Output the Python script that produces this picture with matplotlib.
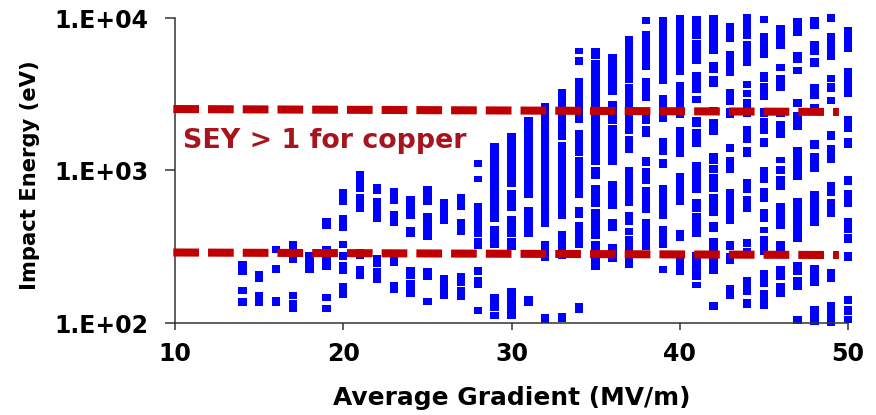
import matplotlib
matplotlib.use("Agg")
import matplotlib.pyplot as plt
from matplotlib.ticker import FixedLocator, FixedFormatter, NullLocator

plt.rcParams['font.family'] = ['DejaVu Sans']
plt.rcParams['lines.scale_dashes'] = False

# ---- data -------------------------------------------------------------
gradients = list(range(14, 51))  # Average gradient (MV/m)

# impact-energy bands (eV) per gradient: low / high edges of each band
energy_low = [
    [206, 155, 129],
    [186, 129],
    [288, 213, 129],
    [247, 144, 118],
    [213],
    [413, 223, 139, 118],
    [594, 401, 310, 259, 210, 146],
    [723, 534, 263, 194],
    [701, 460, 233, 183],
    [603, 433, 236, 157],
    [481, 366, 194, 148],
    [594, 350, 191, 131],
    [446, 144],
    [551, 378, 175, 141.5],
    [1054, 841, 366, 306, 206, 170, 114.5],
    [460, 310, 120, 106],
    [779, 543, 366, 301, 106],
    [660, 366, 129],
    [426, 255, 100],
    [1585, 481, 263, 101.5],
    [5806, 4919, 2048, 1245, 660, 488, 310, 116],
    [5385, 1087, 880, 576, 355, 223],
    [3126, 2018, 1087, 559, 401, 251],
    [3748, 1735, 1302, 585, 439, 378, 229],
    [9134, 4561, 2857, 2018, 1659, 1070, 816, 526, 301],
    [3692, 2080, 1264, 1038.5, 481, 310, 213],
    [4229, 2209, 1226, 594, 345, 206],
    [7282, 4993, 3222, 2772, 1928, 1426, 712, 534, 366, 191, 170],
    [5806, 4359, 3528, 2382, 1709, 1103, 963, 723, 503, 395, 210, 122],
    [6960, 4166, 2689, 2209, 1322, 963, 446, 301, 244, 144],
    [7282, 4845, 3475, 3033, 2243, 1515, 1226, 712, 534, 315, 279, 153, 125],
    [9273, 5467, 3805, 2900, 2243, 1735, 1426, 828, 622, 460, 389, 279, 172, 123.5],
    [6262, 4493, 3321, 2243, 1634, 1120, 949, 745, 413, 292, 191, 148],
    [7620, 5069, 4294, 2609, 1844, 866, 340, 206, 165, 98.5],
    [8469, 5719, 4772, 2944, 2493, 1384, 978, 433, 175, 97],
    [9414, 5304, 3805, 3271, 2730, 1585, 1120, 680, 496, 186, 95.5],
    [5984, 3033, 1789, 1405, 803, 576, 389, 335, 255, 133, 113, 100],
]
energy_high = [
    [255, 172, 146],
    [219, 160],
    [320, 240, 148],
    [345, 160, 141.5],
    [292],
    [488, 320, 155, 131],
    [756, 511, 345, 292, 251, 183],
    [993, 701, 306, 236],
    [816, 660, 279, 229],
    [768, 543, 271, 186],
    [680, 426, 233, 191],
    [791, 526, 229, 146],
    [650, 206],
    [701, 481, 213, 172],
    [1172, 920, 612, 361, 233, 200, 127],
    [1515, 433, 155, 118],
    [1762, 745, 503, 361, 170],
    [2243, 576, 150],
    [2772, 345, 114.5],
    [3423, 1538, 401, 116],
    [6357, 5549, 4042, 1844, 1226, 576, 460, 135],
    [6357, 5304, 1054, 803, 559, 345],
    [5806, 2857, 1987, 853, 481, 330],
    [7620, 3692, 1684, 1054, 534, 420, 372],
    [10152, 8217, 4042, 2531, 1958, 1226, 1038.5, 779, 481],
    [10152, 3126, 1634, 1190, 803, 433, 236],
    [10463, 3805, 1928, 963, 407, 267],
    [10307, 7173, 4425, 3080, 2243, 1872, 1137, 650, 526, 292, 186],
    [10463, 5147, 4166, 2609, 2176, 1302, 1087, 949, 701, 460, 361, 137],
    [9273, 6075, 3423, 2569, 1492, 1226, 756, 345, 288, 177.5],
    [10623, 7066, 3863, 3372, 2944, 1958, 1426, 880, 680, 355, 310, 200, 144],
    [10307, 7973, 4425, 3748, 2569, 2209, 1634, 1054, 768, 559, 426, 372, 223, 165],
    [8997, 4993, 4229, 2569, 2111, 1226, 1070, 920, 612, 345, 236, 183],
    [10000, 5984, 4772, 2944, 2418, 1426, 660, 251, 200, 111],
    [10152, 7066, 5467, 3692, 2730, 1585, 1302, 734, 240, 129],
    [10623, 7973, 4229, 3748, 3033, 1816, 1470, 841, 650, 226, 137],
    [8729, 4701, 2277, 1634, 920, 745, 488, 383, 292, 150, 129, 111],
]

# SEY > 1 band for copper (dashed limits)
sey_x = [9.9, 49.46]
sey_upper = [2530, 2420]
sey_lower = [290, 279]
sey_label = "SEY > 1 for copper"

x_ticks = [10, 20, 30, 40, 50]
y_ticks = [100, 1000, 10000]
y_tick_labels = ["1.E+02", "1.E+03", "1.E+04"]
x_title = "Average Gradient (MV/m)"
y_title = "Impact Energy (eV)"

# ---- figure -----------------------------------------------------------
W, H = 876, 415
fig = plt.figure(figsize=(W / 100, H / 100), dpi=100)
ax = fig.add_axes([175 / W, 1 - 323 / H, (848 - 175) / W, (323 - 18) / H])

bx, blo, bh = [], [], []
for g, lows, highs in zip(gradients, energy_low, energy_high):
    for lo, hi in zip(lows, highs):
        bx.append(g)
        blo.append(lo)
        bh.append(hi - lo)
ax.bar(bx, bh, bottom=blo, width=0.5, color='#0000FF', linewidth=0,
       clip_on=False, zorder=2)

dash = (0, (18.5, 6.5))
ax.plot(sey_x, sey_upper, color='#C00000', lw=5.8, linestyle=dash,
        dash_capstyle='butt', zorder=3, clip_on=False)
ax.plot(sey_x, sey_lower, color='#C00000', lw=5.8, linestyle=dash,
        dash_capstyle='butt', zorder=3, clip_on=False)
ax.text(10.48, 1398, sey_label, color='#A6141E', fontsize=19.4,
        fontweight='bold', ha='left', va='baseline', zorder=4)

ax.set_yscale('log')
ax.set_xlim(10, 50)
ax.set_ylim(100, 10000)
ax.xaxis.set_major_locator(FixedLocator(x_ticks))
ax.yaxis.set_major_locator(FixedLocator(y_ticks))
ax.yaxis.set_major_formatter(FixedFormatter(y_tick_labels))
ax.yaxis.set_minor_locator(NullLocator())
ax.xaxis.set_minor_locator(NullLocator())

for s in ['top', 'right']:
    ax.spines[s].set_visible(False)
for s in ['left', 'bottom']:
    ax.spines[s].set_color('#333333')
    ax.spines[s].set_linewidth(1.1)

ax.tick_params(axis='x', direction='out', length=5, width=1.1, color='#333333',
               pad=9, labelsize=17)
ax.tick_params(axis='y', direction='out', length=7.2, width=1.1, color='#333333',
               pad=12, labelsize=17)
for lab in ax.get_xticklabels() + ax.get_yticklabels():
    lab.set_fontweight('bold')

ax.set_xlabel(x_title, fontsize=17.9, fontweight='bold')
ax.xaxis.set_label_coords(0.5, (323 - 398) / 305)
ax.xaxis.label.set_va('center')
ax.set_ylabel(y_title, fontsize=15.2, fontweight='bold')
ax.yaxis.set_label_coords((30 - 175) / 673, (323 - 175) / 305)
ax.yaxis.label.set_va('center')

fig.savefig('out.png', dpi=100)
